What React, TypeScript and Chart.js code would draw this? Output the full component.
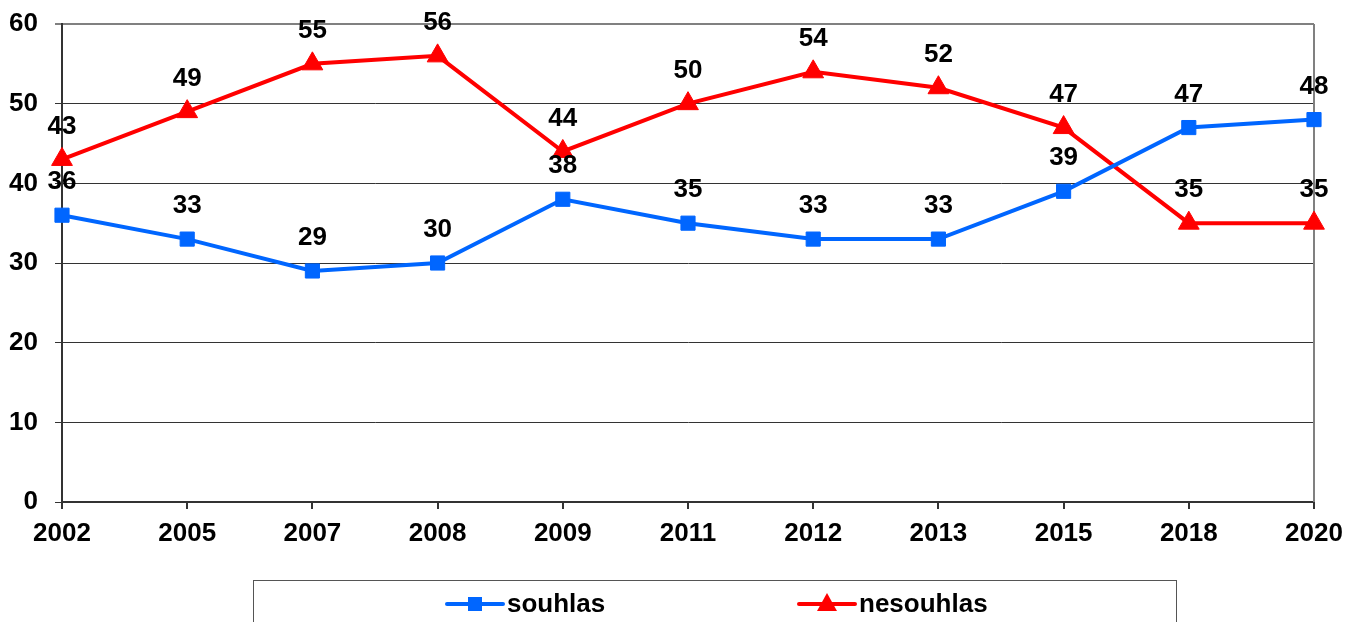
import React, { useEffect, useRef } from "react";
import { Chart, registerables } from "chart.js";

Chart.register(...registerables);

const years = ["2002", "2005", "2007", "2008", "2009", "2011", "2012", "2013", "2015", "2018", "2020"];
const souhlas = [36, 33, 29, 30, 38, 35, 33, 33, 39, 47, 48];
const nesouhlas = [43, 49, 55, 56, 44, 50, 54, 52, 47, 35, 35];
const seriesNames = ["souhlas", "nesouhlas"];
const yTicks = [0, 10, 20, 30, 40, 50, 60];

const BLUE = "#0066FF";
const RED = "#FF0000";
const FONT = "Arial, 'Liberation Sans', sans-serif";
const FS = 26;

export default function App() {
  const ref = useRef<HTMLCanvasElement | null>(null);

  useEffect(() => {
    const canvas = ref.current;
    if (!canvas) return;

    const labelPlugin = {
      id: "pointLabels",
      afterDatasetsDraw(chart: any) {
        const ctx = chart.ctx;
        ctx.save();
        ctx.font = `bold ${FS}px ${FONT}`;
        ctx.fillStyle = "#000";
        ctx.textAlign = "center";
        ctx.textBaseline = "middle";
        chart.data.datasets.forEach((ds: any, i: number) => {
          const meta = chart.getDatasetMeta(i);
          meta.data.forEach((pt: any, j: number) => {
            ctx.fillText(String(ds.data[j]), pt.x, pt.y - 33);
          });
        });
        ctx.restore();
      },
    };

    const framePlugin = {
      id: "frame",
      beforeDatasetsDraw(chart: any) {
        const { ctx, chartArea } = chart;
        ctx.save();
        ctx.strokeStyle = "#808080";
        ctx.lineWidth = 2;
        ctx.beginPath();
        ctx.moveTo(chartArea.right, chartArea.top);
        ctx.lineTo(chartArea.right, chartArea.bottom);
        ctx.stroke();
        ctx.restore();
      },
    };

    const legendPlugin = {
      id: "boxLegend",
      afterDraw(chart: any) {
        const ctx = chart.ctx;
        ctx.save();
        ctx.strokeStyle = "#555";
        ctx.lineWidth = 1;
        ctx.strokeRect(253.5, 580.5, 923, 80);
        const items = [
          { x: 447, color: BLUE, style: "rect", label: seriesNames[0] },
          { x: 799, color: RED, style: "triangle", label: seriesNames[1] },
        ];
        const cy = 604;
        items.forEach((it) => {
          ctx.strokeStyle = it.color;
          ctx.fillStyle = it.color;
          ctx.lineWidth = 4;
          ctx.lineCap = "round";
          ctx.beginPath();
          ctx.moveTo(it.x, cy);
          ctx.lineTo(it.x + 56, cy);
          ctx.stroke();
          const mx = it.x + 28;
          if (it.style === "rect") {
            ctx.fillRect(mx - 7, cy - 7, 14, 14);
          } else {
            ctx.beginPath();
            ctx.moveTo(mx, cy - 11);
            ctx.lineTo(mx + 10, cy + 7);
            ctx.lineTo(mx - 10, cy + 7);
            ctx.closePath();
            ctx.fill();
          }
          ctx.fillStyle = "#000";
          ctx.font = `bold ${FS}px ${FONT}`;
          ctx.textAlign = "left";
          ctx.textBaseline = "middle";
          ctx.fillText(it.label, it.x + 60, cy + 1);
        });
        ctx.restore();
      },
    };

    const chart = new Chart(canvas, {
      type: "line",
      data: {
        labels: years,
        datasets: [
          {
            label: seriesNames[0],
            data: souhlas,
            borderColor: BLUE,
            backgroundColor: BLUE,
            borderWidth: 4,
            pointStyle: "rect",
            pointRadius: 10,
            pointBorderWidth: 1,
            tension: 0,
          },
          {
            label: seriesNames[1],
            data: nesouhlas,
            borderColor: RED,
            backgroundColor: RED,
            borderWidth: 4,
            pointStyle: "triangle",
            pointRadius: 12,
            pointBorderWidth: 1,
            tension: 0,
          },
        ],
      },
      options: {
        responsive: false,
        animation: false,
        layout: { padding: { top: 24, right: 34, left: 0, bottom: 0 } },
        plugins: {
          legend: { display: false },
          tooltip: { enabled: false },
        },
        scales: {
          x: {
            offset: false,
            grid: {
              drawOnChartArea: false,
              tickLength: 7,
              color: "#333",
              lineWidth: 2,
            },
            border: { color: "#333", width: 2 },
            ticks: {
              color: "#000",
              font: { family: FONT, size: FS, weight: "bold" },
              padding: 9,
              maxRotation: 0,
              autoSkip: false,
            },
            afterFit(scale: any) {
              scale.height = 120;
              scale.paddingLeft = 0;
              scale.paddingRight = 0;
            },
          },
          y: {
            min: 0,
            max: 60,
            afterBuildTicks(scale: any) {
              scale.ticks = yTicks.map((v) => ({ value: v }));
            },
            grid: {
              tickLength: 7,
              color: (c: any) => (c.tick && c.tick.value === 60 ? "#808080" : "#333"),
              lineWidth: (c: any) => (c.tick && c.tick.value === 60 ? 2 : 1),
            },
            border: { color: "#333", width: 2 },
            ticks: {
              color: "#000",
              font: { family: FONT, size: FS, weight: "bold" },
              padding: 17,
            },
            afterFit(scale: any) {
              scale.width = 62;
              scale.paddingTop = 0;
              scale.paddingBottom = 0;
            },
          },
        },
      },
      plugins: [framePlugin, labelPlugin, legendPlugin],
    });

    return () => chart.destroy();
  }, []);

  return (
    <div style={{ position: "fixed", left: 0, top: 0, width: 1348, height: 622, background: "#fff" }}>
      <canvas ref={ref} width={1348} height={622} style={{ display: "block" }} />
    </div>
  );
}
